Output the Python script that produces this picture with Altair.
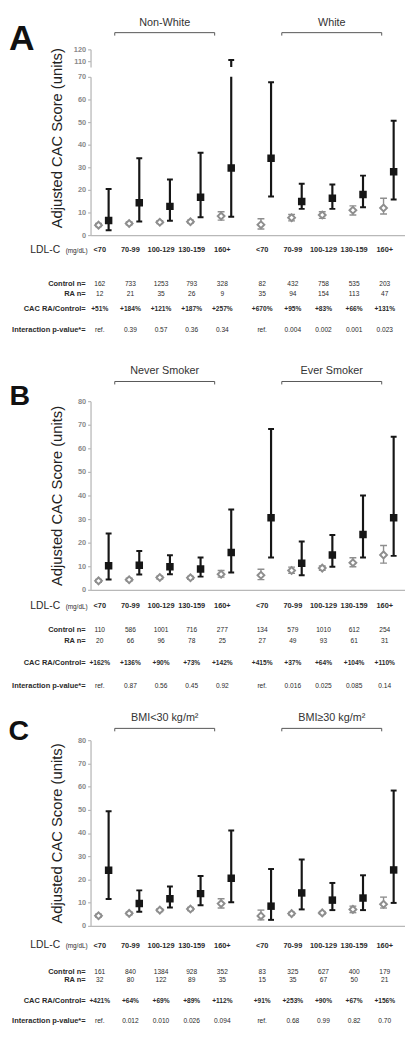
import altair as alt
import pandas as pd

# ---------------- data ----------------
LDL = ["<70", "70-99", "100-129", "130-159", "160+"]
LETTERS = ["A", "B", "C"]
ROW_LABELS = ["Control n=", "RA n=", "CAC RA/Control=", "Interaction p-value*="]
UNIT_LABELS = ["LDL-C", "(mg/dL)"]
Y_TITLE = "Adjusted CAC Score (units)"

A_GROUPS = ["Non-White", "White"]
A_CTRL = [4.4, 5.1, 5.7, 5.9, 8.4, 4.6, 7.7, 8.9, 11.0, 12.0]
A_CTRL_LO = [3.8, 4.5, 5.1, 5.3, 6.6, 2.7, 6.3, 7.4, 8.9, 9.3]
A_CTRL_HI = [5.1, 5.8, 6.4, 6.6, 10.3, 7.2, 9.1, 10.3, 12.9, 16.3]
A_RA = [6.4, 14.3, 12.7, 16.7, 29.7, 34.0, 14.9, 16.3, 18.0, 28.0]
A_RA_LO = [2.1, 6.0, 6.3, 7.9, 8.1, 17.1, 11.6, 11.6, 12.3, 15.7]
A_RA_HI = [20.4, 34.0, 24.6, 36.4, 111.0, 67.6, 22.7, 22.4, 26.3, 50.6]
A_CTRL_N = [162, 733, 1253, 793, 328, 82, 432, 758, 535, 203]
A_RA_N = [12, 21, 35, 26, 9, 35, 94, 154, 113, 47]
A_CAC = ["+51%", "+184%", "+121%", "+187%", "+257%", "+670%", "+95%", "+83%", "+66%", "+131%"]
A_P = ["ref.", "0.39", "0.57", "0.36", "0.34", "ref.", "0.004", "0.002", "0.001", "0.023"]

B_GROUPS = ["Never Smoker", "Ever Smoker"]
B_CTRL = [3.8, 4.3, 5.2, 5.1, 6.6, 6.2, 8.2, 9.2, 11.5, 14.8]
B_CTRL_LO = [3.2, 3.7, 4.6, 4.5, 5.4, 4.3, 7.0, 8.3, 9.8, 11.3]
B_CTRL_HI = [4.4, 4.9, 5.8, 5.7, 8.2, 8.7, 9.6, 10.1, 13.6, 18.8]
B_RA = [10.2, 10.4, 9.8, 8.8, 15.8, 30.6, 11.3, 14.8, 23.5, 30.6]
B_RA_LO = [4.4, 6.5, 6.6, 5.6, 7.3, 13.7, 6.2, 9.8, 13.7, 14.4]
B_RA_HI = [23.9, 16.5, 14.7, 13.7, 34.1, 68.2, 20.5, 23.2, 40.0, 64.9]
B_CTRL_N = [110, 586, 1001, 716, 277, 134, 579, 1010, 612, 254]
B_RA_N = [20, 66, 96, 78, 25, 27, 49, 93, 61, 31]
B_CAC = ["+162%", "+136%", "+90%", "+73%", "+142%", "+415%", "+37%", "+64%", "+104%", "+110%"]
B_P = ["ref.", "0.87", "0.56", "0.45", "0.92", "ref.", "0.016", "0.025", "0.085", "0.14"]

C_GROUPS = ["BMI<30 kg/m\u00b2", "BMI\u226530 kg/m\u00b2"]
C_CTRL = [4.4, 5.4, 6.8, 7.3, 9.6, 4.3, 5.3, 5.6, 7.1, 9.3]
C_CTRL_LO = [3.8, 4.8, 6.2, 6.6, 7.7, 2.6, 4.7, 5.0, 5.7, 7.7]
C_CTRL_HI = [5.0, 6.0, 7.4, 8.0, 11.7, 6.8, 5.9, 6.2, 8.5, 12.4]
C_RA = [24.0, 9.6, 11.7, 13.9, 20.5, 8.5, 14.2, 11.1, 12.0, 24.1]
C_RA_LO = [11.6, 6.1, 7.9, 8.9, 10.2, 2.6, 7.1, 6.8, 6.8, 9.9]
C_RA_HI = [49.4, 15.3, 17.0, 21.5, 41.1, 24.5, 28.6, 18.5, 21.8, 58.3]
C_CTRL_N = [161, 840, 1384, 928, 352, 83, 325, 627, 400, 179]
C_RA_N = [32, 80, 122, 89, 35, 15, 35, 67, 50, 21]
C_CAC = ["+421%", "+64%", "+69%", "+89%", "+112%", "+91%", "+253%", "+90%", "+67%", "+156%"]
C_P = ["ref.", "0.012", "0.010", "0.026", "0.094", "ref.", "0.68", "0.99", "0.82", "0.70"]

# ---------------- style ----------------
GREY = "#8e8e8e"
AXIS_GREY = "#b8b8b8"
BLACK = "#161616"
TEXT = "#2a2a2a"
FONT = "Liberation Sans"
PLOT_W = 320
XSCALE = alt.Scale(domain=[-0.42, 9.84], nice=False, zero=False)
XAXIS = alt.Axis(labels=False, ticks=False, grid=False, title=None,
                 domainColor=AXIS_GREY, domainWidth=1.3)


def series_df(ctrl, clo, chi, ra, rlo, rhi):
    rows = []
    for k in range(10):
        rows.append({"col": k, "series": "Control", "v": ctrl[k], "lo": clo[k], "hi": chi[k]})
        rows.append({"col": k, "series": "RA", "v": ra[k], "lo": rlo[k], "hi": rhi[k]})
    return pd.DataFrame(rows)


def positioned(chart):
    return chart.transform_calculate(
        g="floor(datum.col / 5)", i="datum.col % 5"
    ).transform_calculate(
        pos="datum.i + datum.g * 5.3 + (datum.series == 'RA' ? 0.17 : -0.16)"
    )


def yaxis(values, title, title_y=None):
    kw = dict(values=values, grid=False, domainColor=AXIS_GREY, domainWidth=1.3,
              tickColor=AXIS_GREY, tickSize=3, tickWidth=1.2, labelColor="#8a8a8a",
              labelFontSize=7.5, labelFontWeight="bold", labelPadding=2,
              titleFontSize=15, titleFontWeight="normal", titleColor="#222222",
              titlePadding=13)
    kw["title"] = title
    if title_y is not None:
        kw["titleY"] = title_y
    return alt.Axis(**kw)


def data_layers(df, yscale, yax, xax, only_ra_bars=False):
    base = positioned(alt.Chart(df))
    X = alt.X("pos:Q", scale=XSCALE, axis=xax)

    def Y(f):
        return alt.Y(f, scale=yscale, axis=yax)

    ctrl = base.transform_filter("datum.series == 'Control'")
    ra = base.transform_filter("datum.series == 'RA'")
    r_rule = ra.mark_rule(color=BLACK, strokeWidth=2.2, clip=True).encode(
        x=X, y=Y("lo:Q"), y2="hi:Q")
    r_cap = ra.transform_fold(["lo", "hi"], as_=["end", "ev"]).mark_tick(
        orient="horizontal", size=6, thickness=2, color=BLACK, opacity=1, clip=True
    ).encode(x=X, y=Y("ev:Q"))
    if only_ra_bars:
        return [r_rule, r_cap]
    c_rule = ctrl.mark_rule(color=GREY, strokeWidth=1.4, clip=True).encode(
        x=X, y=Y("lo:Q"), y2="hi:Q")
    c_cap = ctrl.transform_fold(["lo", "hi"], as_=["end", "ev"]).mark_tick(
        orient="horizontal", size=7, thickness=1.4, color=GREY, opacity=1, clip=True
    ).encode(x=X, y=Y("ev:Q"))
    c_pt = ctrl.mark_point(shape="diamond", size=48, filled=False, fill="white",
                           stroke=GREY, strokeWidth=2, opacity=1, clip=True).encode(
        x=X, y=Y("v:Q"))
    r_pt = ra.mark_square(size=58, color=BLACK, opacity=1, clip=True).encode(
        x=X, y=Y("v:Q"))
    return [c_rule, c_cap, c_pt, r_rule, r_cap, r_pt]


def header_layers(groups, letter, xax, text_y, bracket_y, letter_y, letter_x, letter_size):
    hdf = pd.DataFrame({"g": [0, 1], "label": groups})
    hb = alt.Chart(hdf).transform_calculate(c="2 + datum.g * 5.45").transform_calculate(
        x1="datum.c - 1.63", x2="datum.c + 1.63")
    line = hb.mark_rule(color="#555555", strokeWidth=1).encode(
        x=alt.X("x1:Q", scale=XSCALE, axis=xax), x2="x2:Q", y=alt.value(bracket_y))
    left = hb.mark_rule(color="#555555", strokeWidth=1).encode(
        x=alt.X("x1:Q", scale=XSCALE, axis=xax), y=alt.value(bracket_y),
        y2=alt.value(bracket_y + 3))
    right = hb.mark_rule(color="#555555", strokeWidth=1).encode(
        x=alt.X("x2:Q", scale=XSCALE, axis=xax), y=alt.value(bracket_y),
        y2=alt.value(bracket_y + 3))
    txt = hb.mark_text(fontSize=11, color="#333333", baseline="middle").encode(
        x=alt.X("c:Q", scale=XSCALE, axis=xax), y=alt.value(text_y), text="label:N")
    let = alt.Chart(pd.DataFrame({"letter": [letter]})).mark_text(
        fontSize=letter_size, fontWeight="bold", color="#111111", baseline="middle",
        align="center").encode(x=alt.value(letter_x), y=alt.value(letter_y), text="letter:N")
    return [line, left, right, txt, let]


def table_chart(ctrl_n, ra_n, cac, pv, height, ys):
    tdf = pd.DataFrame({"col": list(range(10)), "ldl": LDL * 2, "ctrl_n": ctrl_n,
                        "ra_n": ra_n, "cac": cac, "p": pv})
    base = alt.Chart(tdf).transform_calculate(
        g="floor(datum.col / 5)", i="datum.col % 5").transform_calculate(
        tpos="datum.i + datum.g * 5.3 - 0.12")
    X = alt.X("tpos:Q", scale=XSCALE, axis=None)
    layers = [base.mark_text(fontSize=7.5, fontWeight="bold", color=TEXT, baseline="middle").encode(
        x=X, y=alt.value(ys[0]), text="ldl:N")]
    for field, yv, weight in [("ctrl_n", ys[1], "normal"), ("ra_n", ys[2], "normal"),
                              ("cac", ys[3], "bold"), ("p", ys[4], "normal")]:
        layers.append(base.mark_text(fontSize=6.7, fontWeight=weight, color=TEXT,
                                     baseline="middle").encode(
            x=X, y=alt.value(yv), text=f"{field}:N"))
    ldf = pd.DataFrame({"label": ROW_LABELS})
    for label, yv in zip(ROW_LABELS, ys[1:]):
        layers.append(alt.Chart(ldf).transform_filter(alt.datum.label == label).mark_text(
            align="right", baseline="middle", fontSize=7.6, fontWeight="bold",
            color=TEXT).encode(
            x=alt.value(-5), y=alt.value(yv), text="label:N"))
    udf = pd.DataFrame({"label": UNIT_LABELS})
    layers.append(alt.Chart(udf).transform_filter(alt.datum.label == UNIT_LABELS[0]).mark_text(
        align="right", baseline="middle", fontSize=10.5, color=TEXT).encode(
        x=alt.value(-31), y=alt.value(ys[0]), text="label:N"))
    layers.append(alt.Chart(udf).transform_filter(alt.datum.label == UNIT_LABELS[1]).mark_text(
        align="right", baseline="middle", fontSize=6.5, color=TEXT).encode(
        x=alt.value(-3), y=alt.value(ys[0] + 1), text="label:N"))
    return alt.layer(*layers).properties(width=PLOT_W, height=height)


# ---------------- panel A (broken axis) ----------------
dfA = series_df(A_CTRL, A_CTRL_LO, A_CTRL_HI, A_RA, A_RA_LO, A_RA_HI)
topA = alt.layer(
    *data_layers(dfA, alt.Scale(domain=[105, 120], nice=False, zero=False),
                 yaxis([110, 120], None), None, only_ra_bars=True),
    *header_layers(A_GROUPS, LETTERS[0], None, -27, -17, -10, -70, 36),
).properties(width=PLOT_W, height=18)
plotA = alt.layer(
    *data_layers(dfA, alt.Scale(domain=[0, 70], nice=False, zero=False),
                 yaxis([0, 10, 20, 30, 40, 50, 60, 70], Y_TITLE, title_y=62), XAXIS)
).properties(width=PLOT_W, height=161)
tableA = table_chart(A_CTRL_N, A_RA_N, A_CAC, A_P, 149, [5.5, 40, 50, 65, 87])

# ---------------- panel B ----------------
dfB = series_df(B_CTRL, B_CTRL_LO, B_CTRL_HI, B_RA, B_RA_LO, B_RA_HI)
plotB = alt.layer(
    *data_layers(dfB, alt.Scale(domain=[0, 80], nice=False, zero=False),
                 yaxis([0, 10, 20, 30, 40, 50, 60, 70, 80], Y_TITLE), XAXIS),
    *header_layers(B_GROUPS, LETTERS[1], XAXIS, -31, -20, -5, -72, 29),
).properties(width=PLOT_W, height=192)
tableB = table_chart(B_CTRL_N, B_RA_N, B_CAC, B_P, 133, [6.5, 31, 42, 65, 88])

# ---------------- panel C ----------------
dfC = series_df(C_CTRL, C_CTRL_LO, C_CTRL_HI, C_RA, C_RA_LO, C_RA_HI)
plotC = alt.layer(
    *data_layers(dfC, alt.Scale(domain=[0, 80], nice=False, zero=False),
                 yaxis([0, 10, 20, 30, 40, 50, 60, 70, 80], Y_TITLE), XAXIS),
    *header_layers(C_GROUPS, LETTERS[2], XAXIS, -23, -12, -9, -73, 29),
).properties(width=PLOT_W, height=189)
tableC = table_chart(C_CTRL_N, C_RA_N, C_CAC, C_P, 95, [10, 37, 45, 66, 87])

chart = alt.vconcat(topA, plotA, tableA, plotB, tableB, plotC, tableC,
                    spacing=10, bounds="flush").properties(
    padding=0
).configure(font=FONT).configure_view(strokeWidth=0, strokeOpacity=0)

chart.save("out.html", embed_options={"renderer": "svg", "actions": False})
